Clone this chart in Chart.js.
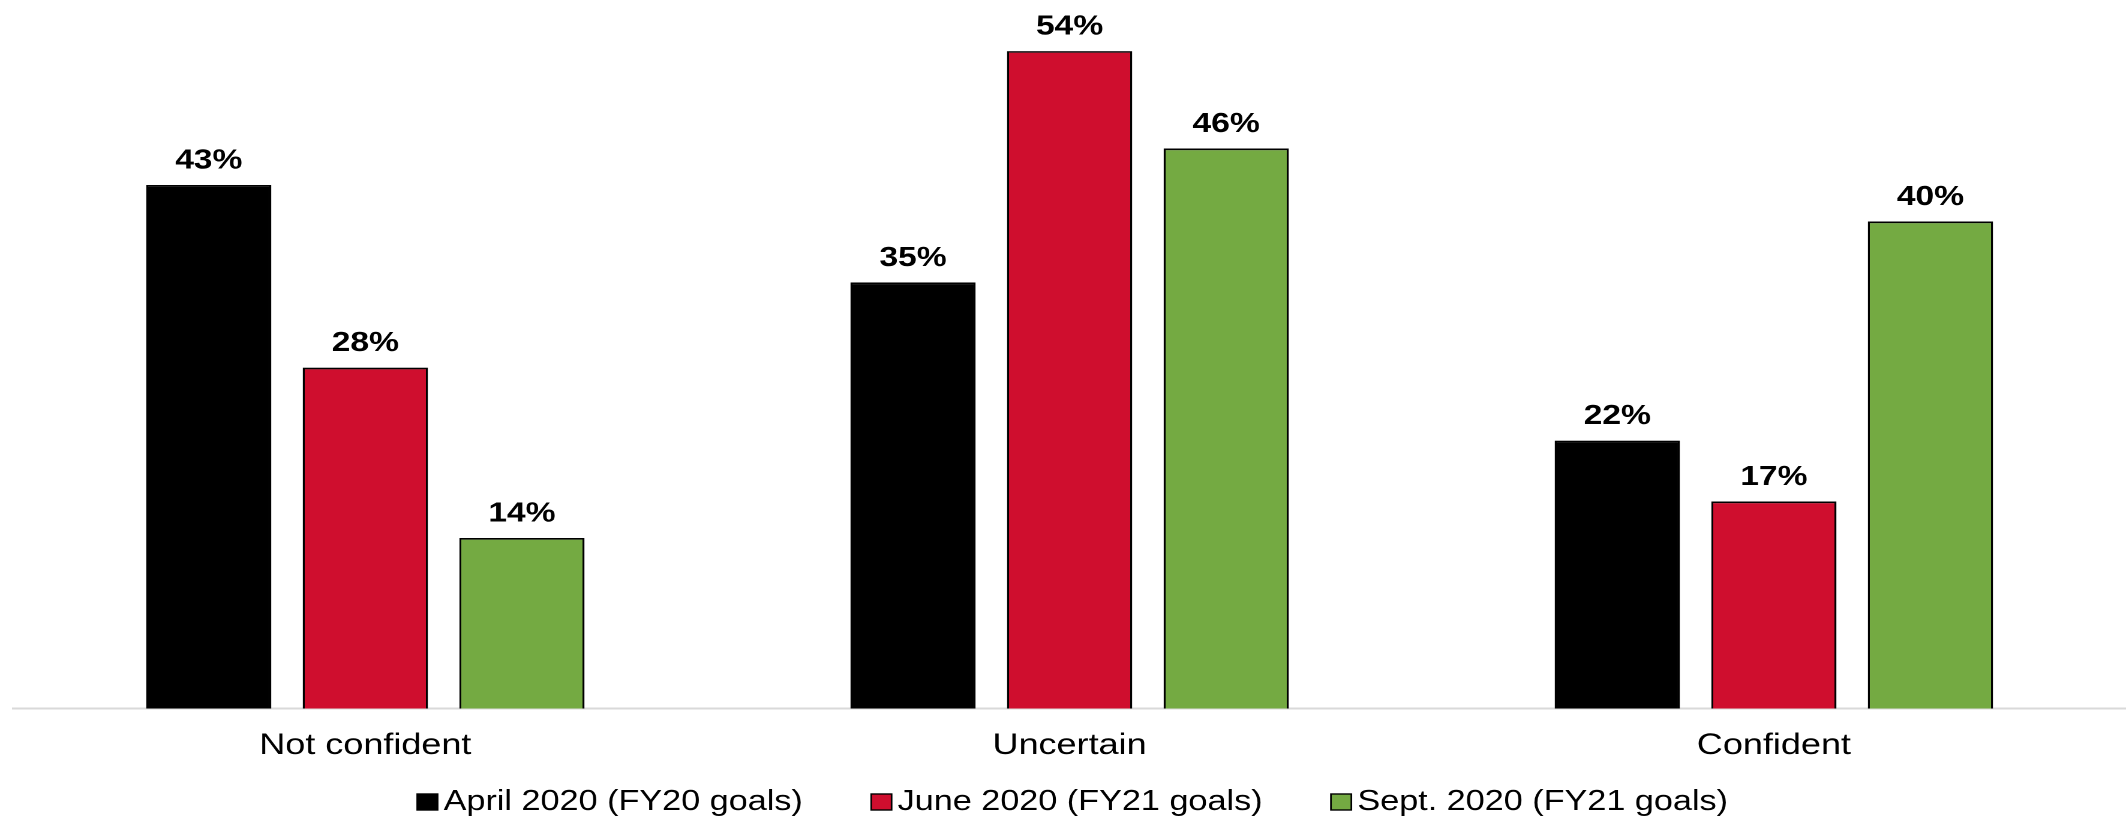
<!DOCTYPE html>
<html>
<head>
<meta charset="utf-8">
<script src="https://cdn.jsdelivr.net/npm/chart.js@4/dist/chart.umd.min.js"></script>
<style>
  html, body { margin: 0; padding: 0; background: #fff; overflow: hidden; }
  /* the chart is laid out in a narrower box and widened to fill the page */
  #wrap { width: 1772px; height: 817px; transform: scaleX(1.19977); transform-origin: 0 0; }
</style>
</head>
<body>
<div id="wrap"><canvas id="c"></canvas></div>
<script>
const categories = ['Not confident', 'Uncertain', 'Confident'];
const seriesNames = ['April 2020 (FY20 goals)', 'June 2020 (FY21 goals)', 'Sept. 2020 (FY21 goals)'];
const april2020 = [43, 35, 22];
const june2020 = [28, 54, 17];
const sept2020 = [14, 46, 40];
const seriesColors = ['#000000', '#CF0E2E', '#74AA42'];
const valueMax = 58;

const FONT = '"Liberation Sans", Arial, sans-serif';

// percentage labels above each bar
const barValueLabels = {
  id: 'barValueLabels',
  afterDatasetsDraw(chart) {
    const ctx = chart.ctx;
    ctx.save();
    ctx.font = 'bold 28px ' + FONT;
    ctx.fillStyle = '#000';
    ctx.textAlign = 'center';
    ctx.textBaseline = 'alphabetic';
    chart.data.datasets.forEach((ds, i) => {
      chart.getDatasetMeta(i).data.forEach((bar, j) => {
        ctx.fillText(ds.data[j] + '%', bar.x, bar.y - 16.5);
      });
    });
    ctx.restore();
  }
};

// compact legend row under the category labels
const bottomLegend = {
  id: 'bottomLegend',
  afterDraw(chart) {
    const ctx = chart.ctx;
    ctx.save();
    ctx.font = '28.5px ' + FONT;
    const boxW = 17, boxH = 16, gapText = 5, gapItem = 57;
    const items = chart.data.datasets.map(ds => ({
      text: ds.label, fill: ds.backgroundColor, w: ctx.measureText(ds.label).width
    }));
    const total = items.reduce((s, it) => s + boxW + gapText + it.w, 0) + gapItem * (items.length - 1);
    let x = (chart.chartArea.left + chart.chartArea.right) / 2 + 2.5 - total / 2;
    const y = chart.height - 15;
    ctx.textBaseline = 'middle';
    ctx.textAlign = 'left';
    items.forEach(it => {
      ctx.fillStyle = it.fill;
      ctx.fillRect(x, y - boxH / 2, boxW, boxH);
      ctx.strokeStyle = '#000';
      ctx.lineWidth = 1.4;
      ctx.strokeRect(x, y - boxH / 2, boxW, boxH);
      ctx.fillStyle = '#000';
      ctx.fillText(it.text, x + boxW + gapText, y);
      x += boxW + gapText + it.w + gapItem;
    });
    ctx.restore();
  }
};

const seriesValues = [april2020, june2020, sept2020];

new Chart(document.getElementById('c'), {
  type: 'bar',
  data: {
    labels: categories,
    datasets: seriesNames.map((name, i) => ({
      label: name,
      data: seriesValues[i],
      backgroundColor: seriesColors[i],
      borderColor: '#000',
      borderWidth: 1.7,
      categoryPercentage: 0.667,
      barPercentage: 0.8
    }))
  },
  options: {
    responsive: true,
    maintainAspectRatio: false,
    devicePixelRatio: 2,
    animation: false,
    layout: { padding: { top: 2.4, left: 11, right: 0, bottom: 34.5 } },
    plugins: {
      legend: { display: false },
      tooltip: { enabled: false }
    },
    scales: {
      x: {
        grid: { display: false, drawTicks: false },
        border: { display: true, color: '#d9d9d9', width: 2 },
        ticks: {
          color: '#000',
          padding: 19,
          font: { family: FONT, size: 30 }
        }
      },
      y: {
        display: false,
        min: 0,
        max: valueMax
      }
    }
  },
  plugins: [barValueLabels, bottomLegend]
});
</script>
</body>
</html>
